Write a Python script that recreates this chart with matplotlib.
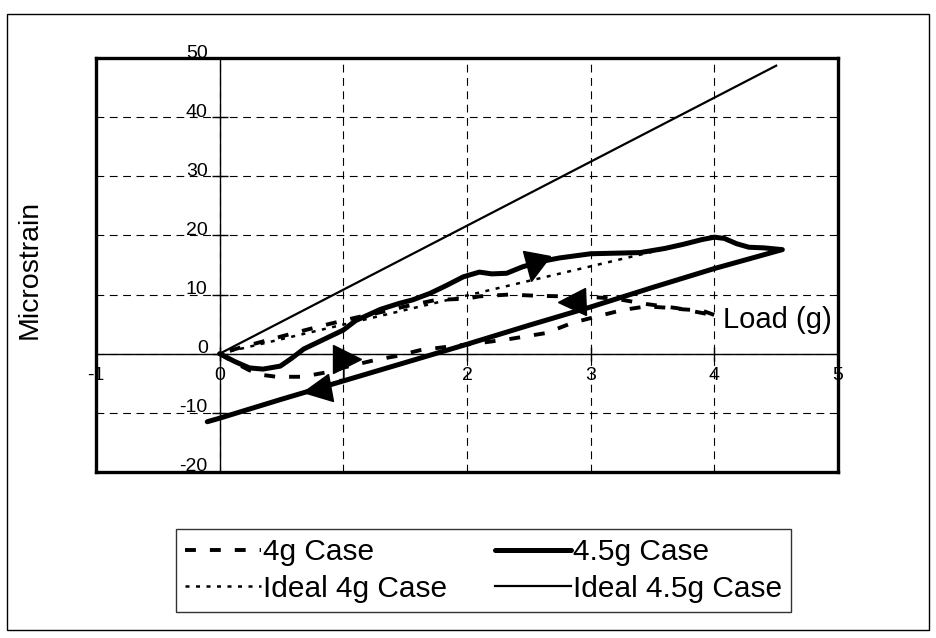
import matplotlib
matplotlib.use("Agg")
import matplotlib.pyplot as plt
from matplotlib.markers import MarkerStyle
from matplotlib.transforms import Affine2D, offset_copy
from matplotlib.patches import Rectangle

plt.rcParams['font.family'] = ['Liberation Sans', 'DejaVu Sans']

# ---- data -------------------------------------------------------------
# 4.5 g case: loading branch then straight unloading branch
case45_load = [0.0, 0.12, 0.24, 0.35, 0.49, 0.58, 0.68, 0.85, 1.0, 1.1, 1.3, 1.45,
               1.56, 1.7, 1.83, 1.97, 2.1, 2.2, 2.32, 2.45, 2.6, 2.75, 3.0, 3.2,
               3.4, 3.6, 3.75, 3.9, 4.0, 4.08, 4.18, 4.28, 4.4, 4.55,
               4.0, 3.5, 3.0, 2.5, 2.0, 1.5, 1.0, 0.5, 0.0, -0.1]
case45_strain = [0.0, -1.3, -2.4, -2.6, -2.1, -0.8, 0.8, 2.5, 4.0, 5.6, 7.5, 8.5,
                 9.1, 10.2, 11.5, 13.0, 13.8, 13.5, 13.6, 14.7, 15.6, 16.2, 16.9, 17.0,
                 17.1, 17.8, 18.5, 19.3, 19.7, 19.5, 18.6, 18.0, 17.9, 17.6,
                 14.4, 11.2, 7.9, 4.8, 1.6, -1.5, -4.6, -7.7, -10.9, -11.5]

# 4 g case: lower loading branch, upper unloading branch
case4_load = [0.0, 0.12, 0.24, 0.35, 0.46, 0.67, 0.85, 1.03, 1.27, 1.43, 1.62, 1.85,
              2.1, 2.35, 2.64, 2.85, 3.05, 3.26, 3.45, 3.6, 3.75, 3.9, 4.02,
              3.7, 3.45, 3.2, 3.0, 2.56, 2.34, 2.1, 2.0, 1.75, 1.5, 1.32, 1.1,
              0.86, 0.62, 0.46, 0.16, 0.0]
case4_strain = [0.0, -1.5, -2.8, -3.6, -3.9, -3.9, -3.2, -2.2, -1.0, -0.4, 0.6, 1.2,
                1.8, 2.5, 3.5, 5.2, 6.3, 7.4, 8.0, 7.8, 7.5, 7.3, 6.4,
                7.7, 8.4, 9.3, 9.6, 9.8, 10.0, 9.7, 9.3, 9.1, 8.0, 7.1, 6.1,
                4.9, 3.6, 2.7, 1.0, 0.0]

# ideal (linear) responses
ideal4_load = [0.0, 4.0]
ideal4_strain = [0.0, 19.7]
ideal45_load = [0.0, 4.5]
ideal45_strain = [0.0, 48.7]

# direction arrows: position and pointing angle (degrees)
arrow_x = [2.54, 2.85, 0.79, 1.03]
arrow_y = [14.6, 8.8, -6.1, -0.85]
arrow_angle = [-102, 182, 190, 0]

x_ticks = [-1, 0, 1, 2, 3, 4, 5]
y_ticks = [-20, -10, 0, 10, 20, 30, 40, 50]

# ---- figure -----------------------------------------------------------
W, H = 936, 638
fig = plt.figure(figsize=(W / 100, H / 100), dpi=100)
ax = fig.add_axes([96 / W, 1 - 472 / H, (838 - 96) / W, (472 - 58) / H])
ax.set_xlim(-1, 5)
ax.set_ylim(-20, 50)
ax.set_xticks(x_ticks)
ax.set_yticks(y_ticks)
ax.tick_params(length=0, labelbottom=False, labelleft=False)
ax.grid(True, color='black', linestyle=(0, (7, 5)), linewidth=0.8)
ax.set_axisbelow(True)
for sp in ax.spines.values():
    sp.set_linewidth(2.4)

ax.axhline(0, color='black', lw=1.0, zorder=2)
ax.axvline(0, color='black', lw=1.0, zorder=2)

# tick marks crossing the axis lines
ax.plot([0] * len(y_ticks), y_ticks, ls='none', marker='_', ms=12,
        mew=1.0, color='black', clip_on=False, zorder=2)
ax.plot(x_ticks, [0] * len(x_ticks), ls='none', marker='|', ms=10,
        mew=1.0, color='black', clip_on=False, zorder=2)

# tick labels placed next to the axis lines
ylab_tr = offset_copy(ax.transData, fig=fig, x=-12, y=5, units='dots')
for v in y_ticks:
    ax.text(0, v, f"{v}", transform=ylab_tr, ha='right', va='center',
            fontsize=14, clip_on=False)
xlab_tr = offset_copy(ax.transData, fig=fig, x=0, y=-22, units='dots')
for v in x_ticks:
    ax.text(v, 0, f"{v}", transform=xlab_tr, ha='center', va='center',
            fontsize=14, clip_on=False)

# series
l_i45, = ax.plot(ideal45_load, ideal45_strain, color='black', lw=1.6,
                 label='Ideal 4.5g Case')
l_i4, = ax.plot(ideal4_load, ideal4_strain, color='black', lw=1.8,
                linestyle=(0, (1.6, 2.6)), label='Ideal 4g Case')
l_4, = ax.plot(case4_load, case4_strain, color='black', lw=2.8,
               linestyle=(0, (2.8, 3.6)), label='4g Case')
l_45, = ax.plot(case45_load, case45_strain, color='black', lw=3.6,
                solid_joinstyle='round', solid_capstyle='round',
                label='4.5g Case')

# arrowheads showing load / unload direction
for x, y, a in zip(arrow_x, arrow_y, arrow_angle):
    m = MarkerStyle('>', transform=Affine2D().rotate_deg(a))
    ax.plot([x], [y], ls='none', marker=m, ms=20, color='black', zorder=5)

ax.text(4.95, 5.7, 'Load (g)', ha='right', va='center', fontsize=21)
fig.text(30 / W, 1 - 269 / H, 'Microstrain', rotation=90, ha='center',
         va='center', fontsize=20.5)

leg = fig.legend(handles=[l_4, l_i4, l_45, l_i45],
                 labels=['4g Case', 'Ideal 4g Case', '4.5g Case', 'Ideal 4.5g Case'],
                 ncol=2, loc='upper left',
                 bbox_to_anchor=(176 / W, 1 - 529 / H), frameon=True,
                 fancybox=False, edgecolor='black', fontsize=21.5,
                 handlelength=2.55, handletextpad=0.08, columnspacing=1.58,
                 labelspacing=0.3, borderpad=0.3, borderaxespad=0)
leg.get_frame().set_linewidth(1.0)

# outer border
fig.add_artist(Rectangle((7 / W, 1 - 630 / H), (929 - 7) / W, (630 - 14) / H,
                         transform=fig.transFigure, fill=False, lw=1.0,
                         ec='black'))

fig.savefig('out.png', dpi=100)
